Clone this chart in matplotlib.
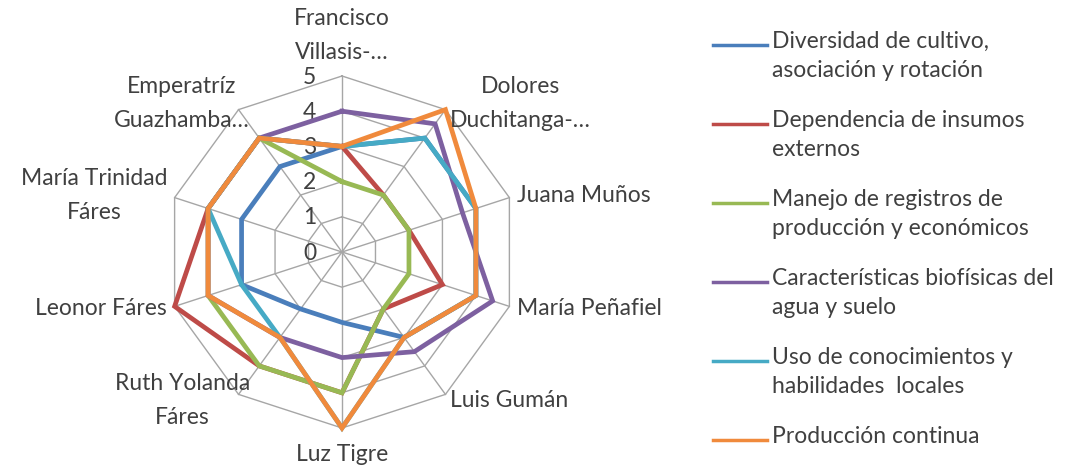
import numpy as np
import matplotlib.pyplot as plt
from matplotlib.lines import Line2D

plt.rcParams['font.family'] = ['Lato', 'DejaVu Sans']

# categories (clockwise from the top)
categories = ["Francisco\nVillasis-…", "Dolores\nDuchitanga-…", "Juana Muños",
              "María Peñafiel", "Luis Gumán", "Luz Tigre", "Ruth Yolanda\nFáres",
              "Leonor Fáres", "María Trinidad\nFáres", "Emperatríz\nGuazhamba…"]
ticks = [0, 1, 2, 3, 4, 5]

series_names = ["Diversidad de cultivo,\nasociación y rotación",
                "Dependencia de insumos\nexternos",
                "Manejo de registros de\nproducción y económicos",
                "Características biofísicas del\nagua y suelo",
                "Uso de conocimientos y\nhabilidades  locales",
                "Producción continua"]

diversidad = [3, 4, 4, 4, 3, 2, 2, 3, 3, 3]
dependencia = [3, 2, 2, 3, 2, 4, 4, 5, 4, 4]
manejo = [2, 2, 2, 2, 2, 4, 4, 4, 4, 4]
caracteristicas = [4, 4.5, 3.6, 4.5, 3.5, 3, 3, 4, 4, 4]
conocimientos = [3, 4, 4, 4, 3, 5, 3, 3, 4, 4]
produccion = [3, 5, 4, 4, 3, 5, 3, 4, 4, 4]

series = [diversidad, dependencia, manejo, caracteristicas, conocimientos, produccion]
colors = ["#4A7EBB", "#BE4B48", "#98B954", "#7D60A0", "#46AAC5", "#F08A3C"]
grid_color = "#A6A6A6"
text_color = "#404040"
fs = 16.5

W, H = 1077, 470
fig = plt.figure(figsize=(W / 100, H / 100), dpi=100)

# radar centre and radius in pixels
cx, cy, R = 342, 252, 176
ax = fig.add_axes([(cx - R) / W, (H - cy - R) / H, 2 * R / W, 2 * R / H], projection='polar')
ax.set_theta_offset(np.pi / 2)
ax.set_theta_direction(-1)
ax.set_ylim(0, 5)
ax.grid(False)
ax.spines['polar'].set_visible(False)
ax.set_xticks([])
ax.set_yticks([])
ax.patch.set_alpha(0)

n = len(categories)
angles = np.linspace(0, 2 * np.pi, n, endpoint=False)
closed = np.append(angles, angles[0])

# polygon grid
for v in ticks[1:]:
    ax.plot(closed, [v] * (n + 1), color=grid_color, lw=1, clip_on=False, zorder=1)
for a in angles:
    ax.plot([a, a], [0, ticks[-1]], color=grid_color, lw=1, clip_on=False, zorder=1)

# scale labels
for v in ticks:
    ax.annotate(str(v), xy=(0, v), xytext=(-26, -1), textcoords='offset pixels',
                ha='right', va='center', fontsize=fs, color=text_color)

# series
for vals, c in zip(series, colors):
    ax.plot(closed, vals + vals[:1], color=c, lw=3.4, clip_on=False, zorder=3,
            solid_joinstyle='miter')

# category labels
for a, lab in zip(angles, categories):
    s, c = np.sin(a), np.cos(a)
    if abs(s) < 0.1:
        ha = 'center'
        va = 'bottom' if c > 0 else 'top'
        off = (0, 13 if c > 0 else -16)
    else:
        ha = 'left' if s > 0 else 'right'
        va = 'center'
        off = (8 * s, 8 * c)
        if s < 0 and abs(c) > 0.5:
            # excel pushes the left diagonal labels inwards
            off = (off[0] + 16, off[1])
    ax.annotate(lab, xy=(a, ticks[-1]), xytext=off, textcoords='offset pixels',
                ha=ha, va=va, multialignment='center', linespacing=1.75,
                fontsize=fs, color=text_color)

# legend
for i, (name, c) in enumerate(zip(series_names, colors)):
    y = 1 - (45 + i * 79) / H
    fig.add_artist(Line2D([713 / W, 767 / W], [y, y], color=c, lw=2.5))
    fig.text(772 / W, y + 14 / H, name, ha='left', va='top', fontsize=fs,
             linespacing=1.45, color=text_color)

fig.savefig("out.png", dpi=100)
